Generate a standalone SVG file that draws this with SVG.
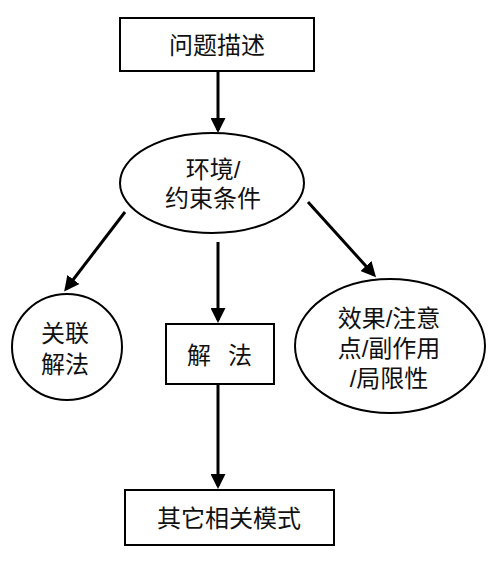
<svg xmlns="http://www.w3.org/2000/svg" width="498" height="561" viewBox="0 0 498 561">
<defs>
<marker id="ah" markerWidth="5" markerHeight="5" refX="4" refY="2.5" orient="auto" markerUnits="strokeWidth">
<path d="M0,0 L5,2.5 L0,5 Z" fill="#000"/>
</marker>
</defs>
<style>
.shape{fill:#fff;stroke:#000;stroke-width:2}
.t{font-family:"Liberation Sans","Noto Sans CJK SC",sans-serif;font-size:24px;fill:#111;text-anchor:middle;dominant-baseline:central}
.c{stroke:#000;stroke-width:3;fill:none;marker-end:url(#ah)}
</style>
<rect width="498" height="561" fill="#fff"/>
<g id="connectors">
<line class="c" x1="218" y1="71" x2="218" y2="130"/>
<line class="c" x1="125" y1="212" x2="66" y2="289"/>
<line class="c" x1="218" y1="242" x2="218" y2="320"/>
<line class="c" x1="308" y1="202" x2="374" y2="275"/>
<line class="c" x1="218" y1="384" x2="218" y2="486"/>
</g>
<g id="problem">
<rect class="shape" x="120" y="18" width="194" height="53"/>
<text class="t" x="217" y="45">问题描述</text>
</g>
<g id="context">
<ellipse class="shape" cx="212" cy="183" rx="92" ry="50"/>
<text class="t" x="213" y="169">环境/</text>
<text class="t" x="213" y="198">约束条件</text>
</g>
<g id="related">
<ellipse class="shape" cx="67" cy="347" rx="55" ry="53"/>
<text class="t" x="65" y="333">关联</text>
<text class="t" x="65" y="364">解法</text>
</g>
<g id="solution">
<rect class="shape" x="166" y="324" width="108" height="60"/>
<text class="t" x="199" y="355">解</text>
<text class="t" x="240" y="355">法</text>
</g>
<g id="effects">
<ellipse class="shape" cx="390" cy="346" rx="95" ry="67"/>
<text class="t" x="389" y="318">效果/注意</text>
<text class="t" x="389" y="348">点/副作用</text>
<text class="t" x="389" y="378">/局限性</text>
</g>
<g id="others">
<rect class="shape" x="125" y="490" width="209" height="55"/>
<text class="t" x="229" y="518">其它相关模式</text>
</g>
</svg>
